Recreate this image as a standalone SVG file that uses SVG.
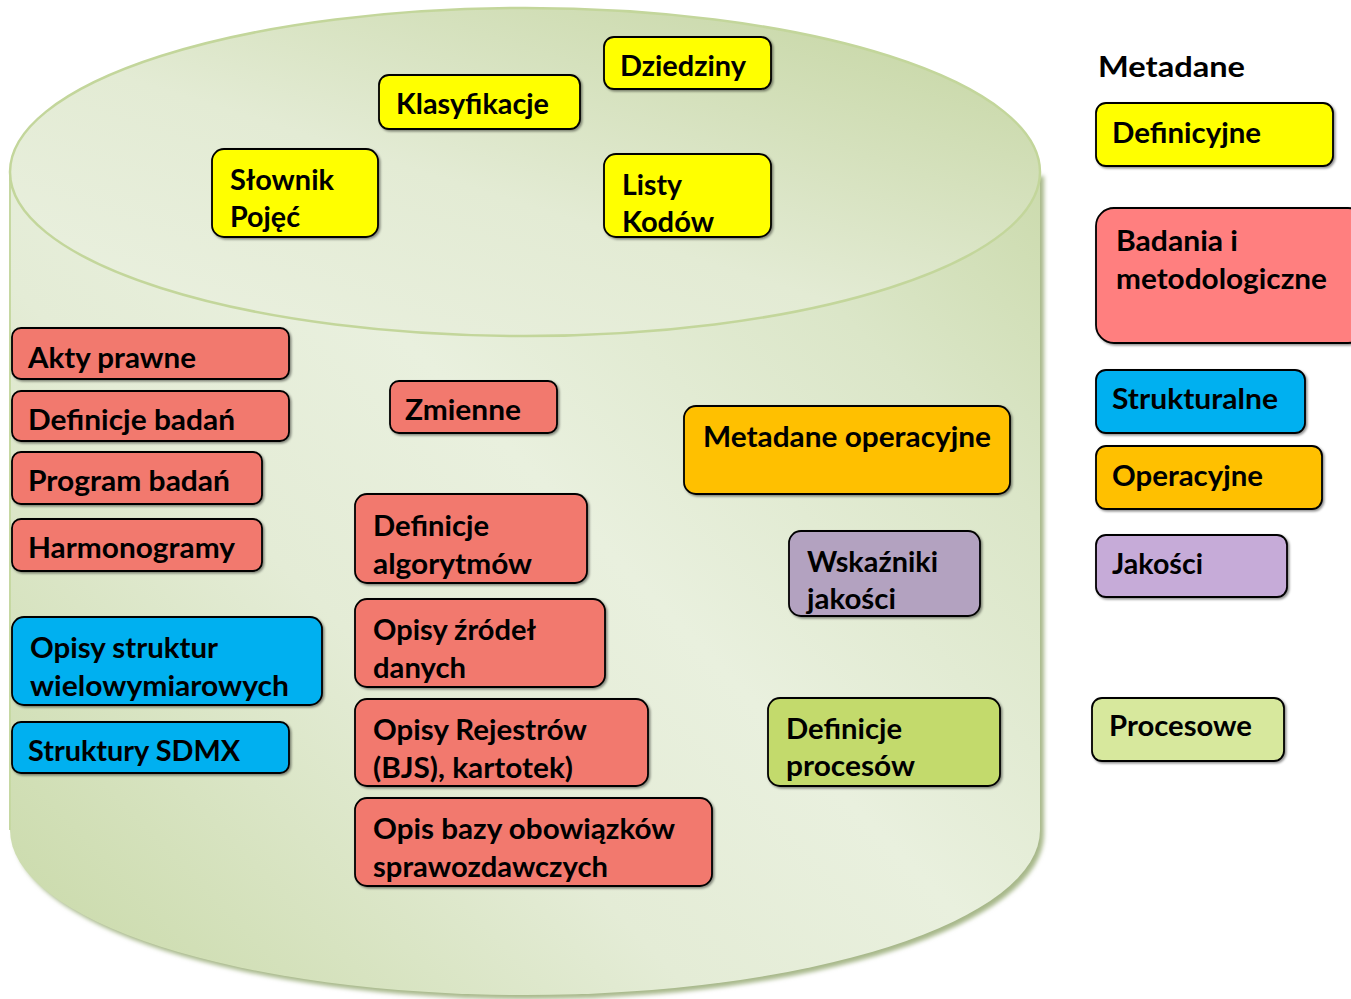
<svg xmlns="http://www.w3.org/2000/svg" width="1351" height="999" viewBox="0 0 1351 999">
  <defs>
    <linearGradient id="bodyFill" gradientUnits="userSpaceOnUse" x1="0" y1="1000" x2="1040" y2="0">
      <stop offset="0" stop-color="#c7d8a5"/>
      <stop offset="0.35" stop-color="#e4ecd6"/>
      <stop offset="0.52" stop-color="#e9f0de"/>
      <stop offset="0.75" stop-color="#dbe6c8"/>
      <stop offset="1" stop-color="#c4d5a0"/>
    </linearGradient>
    <linearGradient id="lidFill" x1="0" y1="1" x2="1" y2="0">
      <stop offset="0" stop-color="#ebf1e1"/>
      <stop offset="0.45" stop-color="#e3ebd4"/>
      <stop offset="1" stop-color="#c3d49f"/>
    </linearGradient>
    <filter id="cylShadow" x="-5%" y="-5%" width="110%" height="110%">
      <feGaussianBlur stdDeviation="2"/>
    </filter>
    <filter id="boxShadow" x="-10%" y="-10%" width="120%" height="130%">
      <feDropShadow dx="1.5" dy="1.5" stdDeviation="1" flood-color="#000" flood-opacity="0.45"/>
    </filter>
  </defs>
  <style>
    .box { stroke: #000; stroke-width: 1.8; filter: url(#boxShadow); }
    .red { fill: #f2796e; }
    .yellow { fill: #ffff00; }
    .blue { fill: #00b0f0; }
    .orange { fill: #ffc000; }
    .purple { fill: #b3a2c0; }
    .green { fill: #c3da6c; }
    .lbl { font-family: Lato, "Open Sans", "Liberation Sans", sans-serif; font-weight: 700; font-size: 28px; fill: #000; }
  </style>

  <!-- storage cylinder -->
  <g id="cylinder">
    <path d="M14,176 L14,834 A515,165 0 0 0 1044,834 L1044,176 Z" fill="#a7b88a" filter="url(#cylShadow)"/>
    <path d="M10,172 L10,830 A515,165 0 0 0 1040,830 L1040,172 Z" fill="url(#bodyFill)"/>
    <path d="M10,172 L10,830" stroke="#c6d8a2" stroke-width="2" fill="none"/>
    <ellipse cx="525" cy="172" rx="515" ry="164" fill="url(#lidFill)" stroke="#c3d69b" stroke-width="2.5"/>
  </g>

  <!-- definitional metadata -->
  <g id="dziedziny">
    <rect class="box yellow" x="604" y="37" width="167" height="52" rx="10"/>
    <text class="lbl" x="620" y="76" textLength="126" lengthAdjust="spacingAndGlyphs">Dziedziny</text>
  </g>
  <g id="klasyfikacje">
    <rect class="box yellow" x="379" y="75" width="201" height="54" rx="10"/>
    <text class="lbl" x="396" y="114" textLength="153" lengthAdjust="spacingAndGlyphs">Klasyfikacje</text>
  </g>
  <g id="slownik">
    <rect class="box yellow" x="212" y="149" width="166" height="88" rx="12"/>
    <text class="lbl" x="230" y="190" textLength="104" lengthAdjust="spacingAndGlyphs">Słownik</text>
    <text class="lbl" x="230" y="227" textLength="70" lengthAdjust="spacingAndGlyphs">Pojęć</text>
  </g>
  <g id="listy-kodow">
    <rect class="box yellow" x="604" y="154" width="167" height="83" rx="12"/>
    <text class="lbl" x="622" y="195" textLength="60" lengthAdjust="spacingAndGlyphs">Listy</text>
    <text class="lbl" x="622" y="232" textLength="92" lengthAdjust="spacingAndGlyphs">Kodów</text>
  </g>

  <!-- survey and methodology metadata -->
  <g id="akty-prawne">
    <rect class="box red" x="12" y="328" width="277" height="51" rx="9"/>
    <text class="lbl" x="28" y="368" textLength="168" lengthAdjust="spacingAndGlyphs">Akty prawne</text>
  </g>
  <g id="definicje-badan">
    <rect class="box red" x="12" y="391" width="277" height="50" rx="9"/>
    <text class="lbl" x="28" y="430" textLength="207" lengthAdjust="spacingAndGlyphs">Definicje badań</text>
  </g>
  <g id="program-badan">
    <rect class="box red" x="12" y="452" width="250" height="52" rx="9"/>
    <text class="lbl" x="28" y="491" textLength="202" lengthAdjust="spacingAndGlyphs">Program badań</text>
  </g>
  <g id="harmonogramy">
    <rect class="box red" x="12" y="519" width="250" height="52" rx="9"/>
    <text class="lbl" x="28" y="558" textLength="207" lengthAdjust="spacingAndGlyphs">Harmonogramy</text>
  </g>
  <g id="zmienne">
    <rect class="box red" x="390" y="381" width="167" height="52" rx="9"/>
    <text class="lbl" x="405" y="420" textLength="116" lengthAdjust="spacingAndGlyphs">Zmienne</text>
  </g>
  <g id="definicje-algorytmow">
    <rect class="box red" x="355" y="494" width="232" height="89" rx="12"/>
    <text class="lbl" x="373" y="536" textLength="116" lengthAdjust="spacingAndGlyphs">Definicje</text>
    <text class="lbl" x="373" y="574" textLength="159" lengthAdjust="spacingAndGlyphs">algorytmów</text>
  </g>
  <g id="opisy-zrodel">
    <rect class="box red" x="355" y="599" width="250" height="88" rx="12"/>
    <text class="lbl" x="373" y="640" textLength="163" lengthAdjust="spacingAndGlyphs">Opisy źródeł</text>
    <text class="lbl" x="373" y="678" textLength="93" lengthAdjust="spacingAndGlyphs">danych</text>
  </g>
  <g id="opisy-rejestrow">
    <rect class="box red" x="355" y="699" width="293" height="87" rx="12"/>
    <text class="lbl" x="373" y="740" textLength="214" lengthAdjust="spacingAndGlyphs">Opisy Rejestrów</text>
    <text class="lbl" x="373" y="778" textLength="200" lengthAdjust="spacingAndGlyphs">(BJS), kartotek)</text>
  </g>
  <g id="opis-bazy">
    <rect class="box red" x="355" y="798" width="357" height="88" rx="12"/>
    <text class="lbl" x="373" y="839" textLength="302" lengthAdjust="spacingAndGlyphs">Opis bazy obowiązków</text>
    <text class="lbl" x="373" y="877" textLength="235" lengthAdjust="spacingAndGlyphs">sprawozdawczych</text>
  </g>

  <!-- structural metadata -->
  <g id="opisy-struktur">
    <rect class="box blue" x="12" y="617" width="310" height="88" rx="12"/>
    <text class="lbl" x="30" y="658" textLength="188" lengthAdjust="spacingAndGlyphs">Opisy struktur</text>
    <text class="lbl" x="30" y="696" textLength="259" lengthAdjust="spacingAndGlyphs">wielowymiarowych</text>
  </g>
  <g id="struktury-sdmx">
    <rect class="box blue" x="12" y="722" width="277" height="51" rx="9"/>
    <text class="lbl" x="28" y="761" textLength="212" lengthAdjust="spacingAndGlyphs">Struktury SDMX</text>
  </g>

  <!-- operational, quality and process metadata -->
  <g id="metadane-operacyjne">
    <rect class="box orange" x="684" y="406" width="326" height="88" rx="12"/>
    <text class="lbl" x="703" y="447" textLength="288" lengthAdjust="spacingAndGlyphs">Metadane operacyjne</text>
  </g>
  <g id="wskazniki-jakosci">
    <rect class="box purple" x="789" y="531" width="191" height="85" rx="12"/>
    <text class="lbl" x="807" y="572" textLength="131" lengthAdjust="spacingAndGlyphs">Wskaźniki</text>
    <text class="lbl" x="807" y="609" textLength="89" lengthAdjust="spacingAndGlyphs">jakości</text>
  </g>
  <g id="definicje-procesow">
    <rect class="box green" x="768" y="698" width="232" height="88" rx="12"/>
    <text class="lbl" x="786" y="739" textLength="116" lengthAdjust="spacingAndGlyphs">Definicje</text>
    <text class="lbl" x="786" y="776" textLength="129" lengthAdjust="spacingAndGlyphs">procesów</text>
  </g>

  <!-- legend -->
  <g id="legend-title">
    <text class="lbl" x="1098" y="77" textLength="147" lengthAdjust="spacingAndGlyphs">Metadane</text>
  </g>
  <g id="legend-definicyjne">
    <rect class="box yellow" x="1096" y="103" width="237" height="63" rx="10"/>
    <text class="lbl" x="1112" y="143" textLength="149" lengthAdjust="spacingAndGlyphs">Definicyjne</text>
  </g>
  <g id="legend-badania">
    <rect class="box" fill="#ff7f7f" x="1096" y="208" width="270" height="135" rx="18"/>
    <text class="lbl" x="1116" y="251" textLength="122" lengthAdjust="spacingAndGlyphs">Badania i</text>
    <text class="lbl" x="1116" y="289" textLength="211" lengthAdjust="spacingAndGlyphs">metodologiczne</text>
  </g>
  <g id="legend-strukturalne">
    <rect class="box blue" x="1096" y="370" width="209" height="63" rx="10"/>
    <text class="lbl" x="1112" y="409" textLength="166" lengthAdjust="spacingAndGlyphs">Strukturalne</text>
  </g>
  <g id="legend-operacyjne">
    <rect class="box orange" x="1096" y="446" width="226" height="63" rx="10"/>
    <text class="lbl" x="1112" y="486" textLength="151" lengthAdjust="spacingAndGlyphs">Operacyjne</text>
  </g>
  <g id="legend-jakosci">
    <rect class="box" fill="#c6abd8" x="1096" y="535" width="191" height="62" rx="10"/>
    <text class="lbl" x="1112" y="574" textLength="91" lengthAdjust="spacingAndGlyphs">Jakości</text>
  </g>
  <g id="legend-procesowe">
    <rect class="box" fill="#d7e89d" x="1092" y="698" width="192" height="63" rx="10"/>
    <text class="lbl" x="1109" y="736" textLength="143" lengthAdjust="spacingAndGlyphs">Procesowe</text>
  </g>

  <!-- no connectors in this figure -->
  <g id="connectors"/>
</svg>
